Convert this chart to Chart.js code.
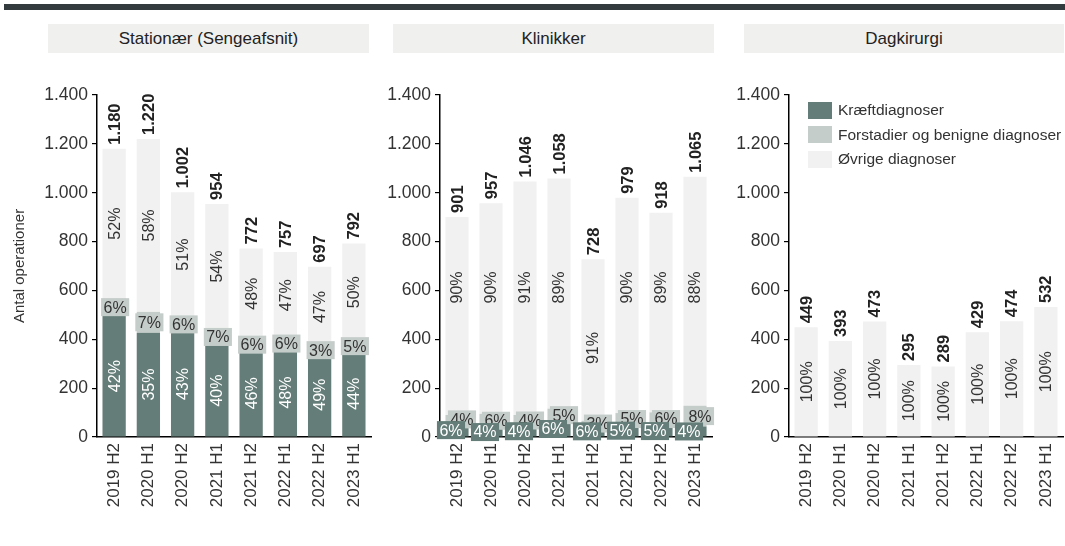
<!DOCTYPE html>
<html>
<head>
<meta charset="utf-8">
<script src="https://cdn.jsdelivr.net/npm/chart.js@4.4.1/dist/chart.umd.min.js"></script>
<style>
  body { margin: 0; width: 1065px; height: 546px; position: relative; overflow: hidden; background: #fff;
         font-family: "Liberation Sans", Arial, sans-serif; }
  .topbar { position: absolute; left: 4px; right: 0; top: 4px; height: 6px; background: #343b3e; }
  .ptitle { position: absolute; top: 24px; height: 29px; line-height: 29px; background: #f0f0ef;
            text-align: center; font-size: 17px; color: #222; }
  .wrap { position: absolute; top: 0; height: 546px; }
  .legend { position: absolute; left: 808px; top: 98px; font-size: 15.5px; color: #333; }
  .legend div { height: 24.5px; display: flex; align-items: center; }
  .legend span.sw { width: 24px; height: 17px; margin-right: 6px; display: inline-block; }
</style>
</head>
<body>
<div class="topbar"></div>
<div class="ptitle" style="left:48px;width:321px">Stationær (Sengeafsnit)</div>
<div class="ptitle" style="left:393px;width:321px">Klinikker</div>
<div class="ptitle" style="left:744px;width:320px">Dagkirurgi</div>

<div class="wrap" style="left:0;width:385px"><canvas id="c1" width="385" height="546"></canvas></div>
<div class="wrap" style="left:375px;width:351px"><canvas id="c2" width="351" height="546"></canvas></div>
<div class="wrap" style="left:718px;width:347px"><canvas id="c3" width="347" height="546"></canvas></div>

<div class="legend" id="legend"></div>

<script>
// perioder og antal operationer pr. diagnosegruppe
const periods = ["2019 H2", "2020 H1", "2020 H2", "2021 H1", "2021 H2", "2022 H1", "2022 H2", "2023 H1"];
const yTicks = [0, 200, 400, 600, 800, 1000, 1200, 1400];

const seriesNames = ["Kræftdiagnoser", "Forstadier og benigne diagnoser", "Øvrige diagnoser"];
const seriesColors = ["#647d78", "#c5cdca", "#f0f1f0"];

// Stationær (Sengeafsnit)
const kraeftStat = [496, 427, 431, 378, 355, 361, 344, 351];
const forstStat  = [71, 85, 60, 63, 46, 43, 23, 42];
const oevrigStat = [613, 708, 511, 513, 371, 353, 330, 399];

// Klinikker
const kraeftKlin = [54, 38, 45, 63, 44, 49, 46, 43];
const forstKlin  = [36, 57, 45, 53, 22, 49, 55, 85];
const oevrigKlin = [811, 862, 956, 942, 662, 881, 817, 937];

// Dagkirurgi
const kraeftDag = [0, 0, 0, 0, 0, 0, 0, 0];
const forstDag  = [0, 0, 0, 0, 0, 0, 0, 0];
const oevrigDag = [449, 393, 473, 295, 289, 429, 474, 532];

const FONT = '"Liberation Sans", Arial, sans-serif';
Chart.defaults.font.family = FONT;

const fmt = v => String(Math.round(v)).replace(/\B(?=(\d{3})+(?!\d))/g, ".");

// procenttal i segmenterne + total over søjlen
const barLabels = {
  id: "barLabels",
  afterDatasetsDraw(chart, args, opts) {
    const ctx = chart.ctx;
    const sets = chart.data.datasets;
    const yScale = chart.scales.y;
    const metas = sets.map((d, i) => chart.getDatasetMeta(i));
    ctx.save();
    chart.data.labels.forEach((lab, j) => {
      const vals = sets.map(d => d.data[j]);
      const total = vals.reduce((a, b) => a + b, 0);
      const els = metas.map(m => m.data[j]);
      const x = els[0].x;
      const small = vals.map((v, i) => v > 0 && Math.abs(els[i].base - els[i].y) < 36);
      const both = small[0] && small[1];

      ctx.font = "16px " + FONT;
      ctx.textBaseline = "middle";
      // store segmenter: lodret tekst
      [2, 0, 1].forEach(i => {
        if (vals[i] <= 0 || small[i]) return;
        let cy = (els[i].y + els[i].base) / 2;
        // øvrige: fast højde hvis søjlen er høj nok, ellers midt i søjlen
        if (i === 2 && opts.anchor) {
          cy = opts.anchor + 130 < total ? yScale.getPixelForValue(opts.anchor)
                                         : yScale.getPixelForValue(total / 2);
        }
        ctx.save();
        ctx.translate(x, cy);
        ctx.rotate(-Math.PI / 2);
        ctx.textAlign = "center";
        ctx.fillStyle = i === 0 ? "#ffffff" : "#333333";
        ctx.fillText(Math.round(vals[i] / total * 100) + "%", 0, 1);
        ctx.restore();
      });
      // små segmenter: vandret tekst i boks
      [1, 0].forEach(i => {
        if (!small[i]) return;
        const txt = Math.round(vals[i] / total * 100) + "%";
        const cy = (els[i].y + els[i].base) / 2;
        const dx = both ? (i === 0 ? -6 : 5) : 1;
        const w = ctx.measureText(txt).width + 5;
        ctx.fillStyle = sets[i].backgroundColor;
        ctx.fillRect(x + dx - w / 2, cy - 9, w, 18);
        ctx.fillStyle = i === 0 ? "#ffffff" : "#333333";
        ctx.textAlign = "center";
        ctx.fillText(txt, x + dx, cy + 1);
      });
      // total
      const top = Math.min(...els.map(e => e.y));
      ctx.save();
      ctx.translate(x, top - 4);
      ctx.rotate(-Math.PI / 2);
      ctx.font = "bold 16.5px " + FONT;
      ctx.textAlign = "left";
      ctx.fillStyle = "#222222";
      ctx.fillText(fmt(total), 0, 1);
      ctx.restore();
    });
    ctx.restore();
  }
};

function makeChart(id, series, yWidth, padRight, withTitle, anchor) {
  return new Chart(document.getElementById(id), {
    type: "bar",
    data: {
      labels: periods,
      datasets: series.map((data, i) => ({
        label: seriesNames[i],
        data: data,
        backgroundColor: seriesColors[i],
        borderWidth: 0,
        categoryPercentage: 1,
        barPercentage: 0.68
      }))
    },
    options: {
      responsive: false,
      animation: false,
      events: [],
      layout: { padding: { top: 95, right: padRight, left: 0, bottom: 0 } },
      plugins: { legend: { display: false }, tooltip: { enabled: false }, barLabels: { anchor: anchor } },
      scales: {
        x: {
          stacked: true,
          grid: { drawOnChartArea: false, drawTicks: false },
          border: { color: "#000", width: 1.5 },
          ticks: { maxRotation: 90, minRotation: 90, padding: 6, color: "#333", font: { size: 17 } },
          afterFit(s) { s.height = 109; s.paddingLeft = 0; s.paddingRight = 0; }
        },
        y: {
          stacked: true,
          min: 0,
          max: 1400,
          afterBuildTicks(s) { s.ticks = yTicks.map(v => ({ value: v })); },
          grid: { drawOnChartArea: false, drawTicks: true, tickLength: 5, color: "#000", lineWidth: 1.2 },
          border: { color: "#000", width: 1.5 },
          ticks: { padding: 4, color: "#333", font: { size: 17.5 }, callback: v => fmt(v) },
          title: {
            display: withTitle,
            text: "Antal operationer",
            color: "#333",
            font: { size: 15 },
            padding: { top: 11, bottom: 0 }
          },
          afterFit(s) { s.width = yWidth; s.paddingTop = 0; s.paddingBottom = 0; }
        }
      }
    },
    plugins: [barLabels]
  });
}

makeChart("c1", [kraeftStat, forstStat, oevrigStat], 97, 14, true, null);
makeChart("c2", [kraeftKlin, forstKlin, oevrigKlin], 65, 14, false, 612);
makeChart("c3", [kraeftDag, forstDag, oevrigDag], 71, 2, false, null);

// forklaring
const legend = document.getElementById("legend");
seriesNames.forEach((name, i) => {
  const row = document.createElement("div");
  row.innerHTML = `<span class="sw" style="background:${seriesColors[i]}"></span>${name}`;
  legend.appendChild(row);
});
</script>
</body>
</html>
